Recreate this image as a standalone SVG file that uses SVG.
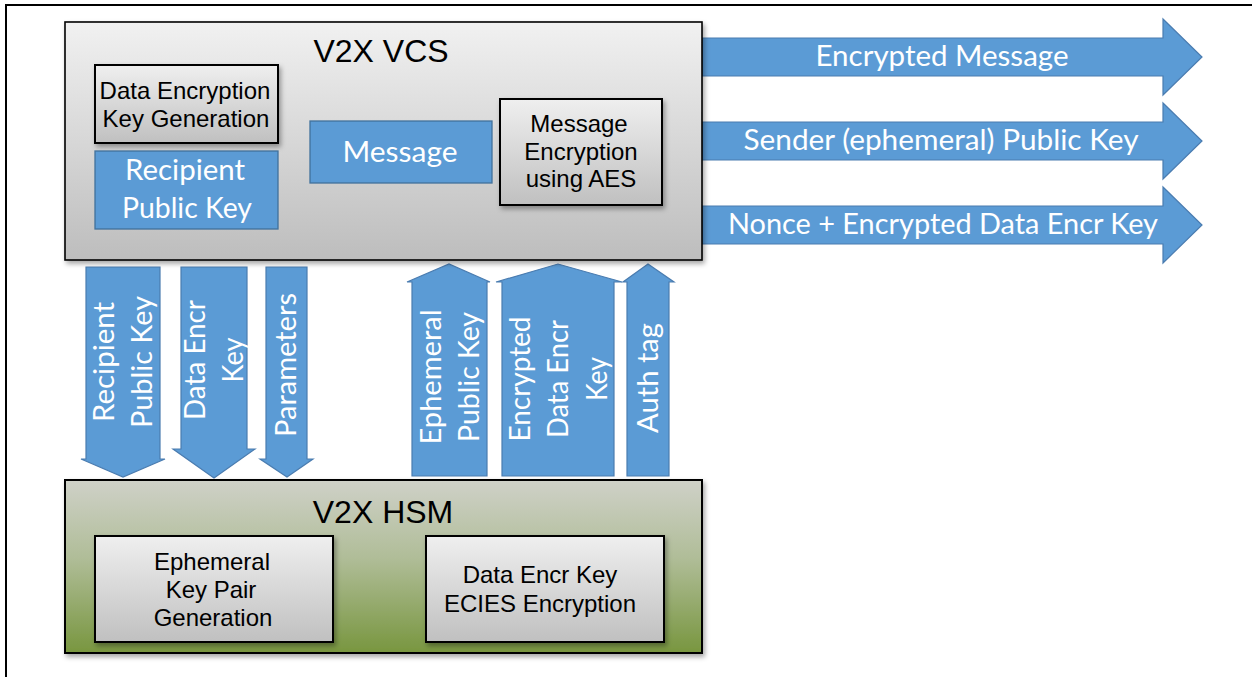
<svg xmlns="http://www.w3.org/2000/svg" width="1252" height="677" viewBox="0 0 1252 677">
<defs>
<linearGradient id="gVcs" x1="0" y1="0" x2="0" y2="1"><stop offset="0" stop-color="#f1f1f1"/><stop offset="1" stop-color="#bdbdbd"/></linearGradient>
<linearGradient id="gBox" x1="0" y1="0" x2="0" y2="1"><stop offset="0" stop-color="#efefef"/><stop offset="1" stop-color="#c0c0c0"/></linearGradient>
<linearGradient id="gHsm" x1="0" y1="0" x2="0" y2="1"><stop offset="0" stop-color="#cfd1c8"/><stop offset="0.45" stop-color="#b0bd98"/><stop offset="1" stop-color="#78963f"/></linearGradient>
<filter id="sh" x="-5%" y="-5%" width="115%" height="125%"><feDropShadow dx="2" dy="3" stdDeviation="2.5" flood-color="#000" flood-opacity="0.35"/></filter>
<style>
.frame{stroke:#000;stroke-width:2;fill:none}
.big{fill:url(#gVcs);stroke:#000;stroke-width:1.6}
.hsm{fill:url(#gHsm);stroke:#000;stroke-width:2}
.gbox{fill:url(#gBox);stroke:#000;stroke-width:2}
.blue{fill:#5b9bd5;stroke:#41719c;stroke-width:1.3}
.arr{fill:#5b9bd5;stroke:#4a7cb0;stroke-width:1.2;stroke-linejoin:miter}
.ar{font-family:"Liberation Sans",Arial,sans-serif;fill:#000;text-anchor:middle}
.cb{font-family:Lato,"Open Sans",sans-serif;fill:#fff;text-anchor:middle;font-size:28px}
</style>
</defs>
<rect width="1252" height="677" fill="#fff"/>
<path class="frame" d="M6,677 V5 H1252"/>

<g id="connectors">
<polygon class="arr" points="702,38 1163,38 1163,19 1202,57 1163,95 1163,76 702,76"/>
<polygon class="arr" points="702,122 1163,122 1163,103 1202,141 1163,179 1163,160 702,160"/>
<polygon class="arr" points="702,206 1163,206 1163,187 1202,225 1163,263 1163,244 702,244"/>
<text class="cb" x="942" y="66" textLength="253" lengthAdjust="spacingAndGlyphs">Encrypted  Message</text>
<text class="cb" x="941" y="150" textLength="395" lengthAdjust="spacingAndGlyphs">Sender (ephemeral)  Public Key</text>
<text class="cb" x="943" y="234" textLength="430" lengthAdjust="spacingAndGlyphs">Nonce + Encrypted  Data Encr Key</text>

<polygon class="arr" points="86,267 160,267 160,459 165,459 123,477 81,459 86,459"/>
<polygon class="arr" points="181,267 247,267 247,449 255,449 214,478 173,449 181,449"/>
<polygon class="arr" points="266,267 307,267 307,459 313,459 287,477 260,459 266,459"/>
<polygon class="arr" points="412,476 487,476 487,282 490,282 449,264 407,282 412,282"/>
<polygon class="arr" points="502,476 614,476 614,282 622,282 558,264 496,282 502,282"/>
<polygon class="arr" points="627,476 669,476 669,282 674,282 648,264 623,282 627,282"/>

<text class="cb" transform="translate(114,362) rotate(-90)" textLength="120" lengthAdjust="spacingAndGlyphs">Recipient</text>
<text class="cb" transform="translate(152,362) rotate(-90)" textLength="132" lengthAdjust="spacingAndGlyphs">Public Key</text>
<text class="cb" transform="translate(205,360) rotate(-90)" textLength="120" lengthAdjust="spacingAndGlyphs">Data Encr</text>
<text class="cb" transform="translate(243,360) rotate(-90)" textLength="45" lengthAdjust="spacingAndGlyphs">Key</text>
<text class="cb" transform="translate(296,365) rotate(-90)" textLength="144" lengthAdjust="spacingAndGlyphs">Parameters</text>
<text class="cb" transform="translate(441,377) rotate(-90)" textLength="135" lengthAdjust="spacingAndGlyphs">Ephemeral</text>
<text class="cb" transform="translate(479,377) rotate(-90)" textLength="130" lengthAdjust="spacingAndGlyphs">Public Key</text>
<text class="cb" transform="translate(530,379) rotate(-90)" textLength="125" lengthAdjust="spacingAndGlyphs">Encrypted</text>
<text class="cb" transform="translate(568,379) rotate(-90)" textLength="118" lengthAdjust="spacingAndGlyphs">Data Encr</text>
<text class="cb" transform="translate(607,379) rotate(-90)" textLength="44" lengthAdjust="spacingAndGlyphs">Key</text>
<text class="cb" transform="translate(658,378) rotate(-90)" textLength="110" lengthAdjust="spacingAndGlyphs">Auth tag</text>
</g>

<g id="vcs">
<rect class="big" x="65" y="22" width="637" height="238" filter="url(#sh)"/>
<text class="ar" x="381" y="62" font-size="32">V2X VCS</text>
</g>
<g id="dek-gen">
<rect class="gbox" x="95" y="65" width="183" height="78" filter="url(#sh)"/>
<text class="ar" x="185" y="99" font-size="24">Data Encryption</text>
<text class="ar" x="186" y="127" font-size="24">Key Generation</text>
</g>
<g id="recipient-key">
<rect class="blue" x="95" y="151" width="183" height="78"/>
<text class="cb" x="185" y="180" textLength="120" lengthAdjust="spacingAndGlyphs">Recipient</text>
<text class="cb" x="187" y="218" textLength="130" lengthAdjust="spacingAndGlyphs">Public Key</text>
</g>
<g id="message">
<rect class="blue" x="310" y="121" width="182" height="62"/>
<text class="cb" x="400" y="162" textLength="115" lengthAdjust="spacingAndGlyphs">Message</text>
</g>
<g id="aes">
<rect class="gbox" x="500" y="99" width="162" height="106" filter="url(#sh)"/>
<text class="ar" x="579" y="132" font-size="24">Message</text>
<text class="ar" x="581" y="160" font-size="24">Encryption</text>
<text class="ar" x="581" y="187" font-size="24">using AES</text>
</g>

<g id="hsm">
<rect class="hsm" x="65" y="480" width="637" height="173" filter="url(#sh)"/>
<text class="ar" x="383" y="523" font-size="32">V2X HSM</text>
</g>
<g id="eph-gen">
<rect class="gbox" x="95" y="536" width="238" height="106" filter="url(#sh)"/>
<text class="ar" x="212" y="570" font-size="24">Ephemeral</text>
<text class="ar" x="211" y="598" font-size="24">Key Pair</text>
<text class="ar" x="213" y="626" font-size="24">Generation</text>
</g>
<g id="ecies">
<rect class="gbox" x="426" y="536" width="238" height="106" filter="url(#sh)"/>
<text class="ar" x="540" y="583" font-size="24">Data Encr Key</text>
<text class="ar" x="540" y="612" font-size="24">ECIES Encryption</text>
</g>
</svg>
